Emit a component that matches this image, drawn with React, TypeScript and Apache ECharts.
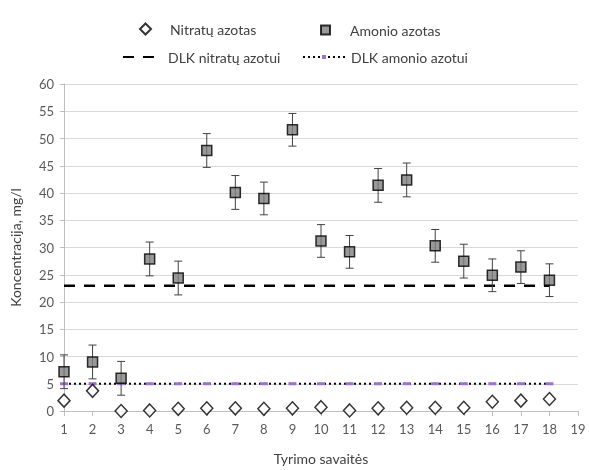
import React, { useEffect, useRef } from "react";
import * as echarts from "echarts";

const weeks = [1, 2, 3, 4, 5, 6, 7, 8, 9, 10, 11, 12, 13, 14, 15, 16, 17, 18];
const nitrate = [1.9, 3.7, 0.0, 0.1, 0.4, 0.5, 0.5, 0.4, 0.5, 0.7, 0.1, 0.5, 0.6, 0.6, 0.6, 1.7, 1.9, 2.2];
const ammonium = [7.2, 9.0, 6.0, 27.9, 24.4, 47.8, 40.1, 39.0, 51.6, 31.2, 29.2, 41.4, 42.4, 30.3, 27.5, 24.9, 26.4, 24.0];
const ammoniumErr = [3.1, 3.1, 3.1, 3.1, 3.1, 3.1, 3.1, 3.0, 3.0, 3.0, 3.0, 3.1, 3.1, 3.0, 3.1, 3.0, 3.0, 3.0];
const dlkNitrate = 23;
const dlkAmmonium = 5;

const FONT = "Lato";

export default function App() {
  const ref = useRef<HTMLDivElement>(null);
  useEffect(() => {
    if (!ref.current) return;
    const chart = echarts.init(ref.current, undefined, { renderer: "svg" });
    const legendText = { color: "#404040", fontSize: 14, fontFamily: FONT };
    chart.setOption({
      animation: false,
      textStyle: { fontFamily: FONT },
      legend: [
        {
          data: ["Nitratų azotas"],
          left: 134,
          top: 17,
          itemWidth: 11,
          itemHeight: 11,
          textStyle: { ...legendText, padding: [0, 0, 0, 14] },
        },
        {
          data: ["Amonio azotas"],
          left: 315,
          top: 18,
          itemWidth: 9,
          itemHeight: 9,
          textStyle: { ...legendText, padding: [0, 0, 0, 15] },
        },
        {
          data: ["DLK nitratų azotui"],
          left: 117,
          top: 45,
          itemWidth: 36,
          itemHeight: 12,
          itemStyle: { opacity: 0 },
          textStyle: { ...legendText, padding: [0, 0, 0, 4] },
        },
        {
          data: ["DLK amonio azotui"],
          left: 297,
          top: 45,
          itemWidth: 42,
          itemHeight: 5,
          textStyle: { ...legendText, padding: [0, 0, 0, 1] },
        },
      ],
      grid: { left: 59, right: 11, top: 84, bottom: 52, containLabel: false },
      xAxis: {
        type: "value",
        min: 1,
        max: 19,
        interval: 1,
        name: "Tyrimo savaitės",
        nameLocation: "middle",
        nameGap: 40,
        nameTextStyle: { color: "#404040", fontSize: 14, fontFamily: FONT },
        axisLine: { show: true, lineStyle: { color: "#bfbfbf", width: 1 } },
        axisTick: { show: true, length: 5, lineStyle: { color: "#bfbfbf" } },
        axisLabel: { color: "#595959", fontSize: 13, margin: 11, fontFamily: FONT },
        splitLine: { show: false },
      },
      yAxis: {
        type: "value",
        min: 0,
        max: 60,
        interval: 5,
        name: "Koncentracija, mg/l",
        nameLocation: "middle",
        nameGap: 42,
        nameTextStyle: { color: "#404040", fontSize: 14, fontFamily: FONT },
        axisLine: { show: true, lineStyle: { color: "#bfbfbf", width: 1 } },
        axisTick: { show: true, length: 4, lineStyle: { color: "#bfbfbf" } },
        axisLabel: { color: "#595959", fontSize: 13, margin: 10, fontFamily: FONT },
        splitLine: { show: true, lineStyle: { color: "#d9d9d9", width: 1.2 } },
      },
      series: [
        {
          name: "DLK amonio azotui",
          type: "line",
          data: weeks.map((w) => [w, dlkAmmonium]),
          symbol: "rect",
          symbolSize: [8, 3],
          itemStyle: { color: "#9b72cf" },
          lineStyle: { color: "#000000", width: 2, type: [2, 3] },
          z: 2,
        },
        {
          name: "DLK nitratų azotui",
          type: "line",
          data: weeks.map((w) => [w, dlkNitrate]),
          symbol: "none",
          lineStyle: { color: "#000000", width: 2.5, type: [11, 9] },
          itemStyle: { color: "#000000" },
          z: 2,
        },
        {
          name: "errors",
          type: "custom",
          data: weeks.map((w, i) => [w, ammonium[i] - ammoniumErr[i], ammonium[i] + ammoniumErr[i]]),
          renderItem: (params: any, api: any) => {
            const x = api.value(0);
            const lo = api.coord([x, api.value(1)]);
            const hi = api.coord([x, api.value(2)]);
            const cap = 4;
            const style = { stroke: "#404040", lineWidth: 1 };
            return {
              type: "group",
              children: [
                { type: "line", shape: { x1: lo[0], y1: lo[1], x2: hi[0], y2: hi[1] }, style },
                { type: "line", shape: { x1: hi[0] - cap, y1: hi[1], x2: hi[0] + cap, y2: hi[1] }, style },
                { type: "line", shape: { x1: lo[0] - cap, y1: lo[1], x2: lo[0] + cap, y2: lo[1] }, style },
              ],
            };
          },
          z: 3,
        },
        {
          name: "Nitratų azotas",
          type: "scatter",
          data: weeks.map((w, i) => [w, nitrate[i]]),
          symbol: "diamond",
          symbolSize: [12, 13],
          itemStyle: { color: "#ffffff", borderColor: "#000000", borderWidth: 1.5 },
          z: 4,
        },
        {
          name: "Amonio azotas",
          type: "scatter",
          data: weeks.map((w, i) => [w, ammonium[i]]),
          symbol: "rect",
          symbolSize: 10,
          itemStyle: { color: "#808080", borderColor: "#000000", borderWidth: 1.5 },
          z: 5,
        },
      ],
    });
    return () => chart.dispose();
  }, []);
  return <div ref={ref} style={{ position: "fixed", left: 0, top: 0, width: 589, height: 470 }} />;
}
